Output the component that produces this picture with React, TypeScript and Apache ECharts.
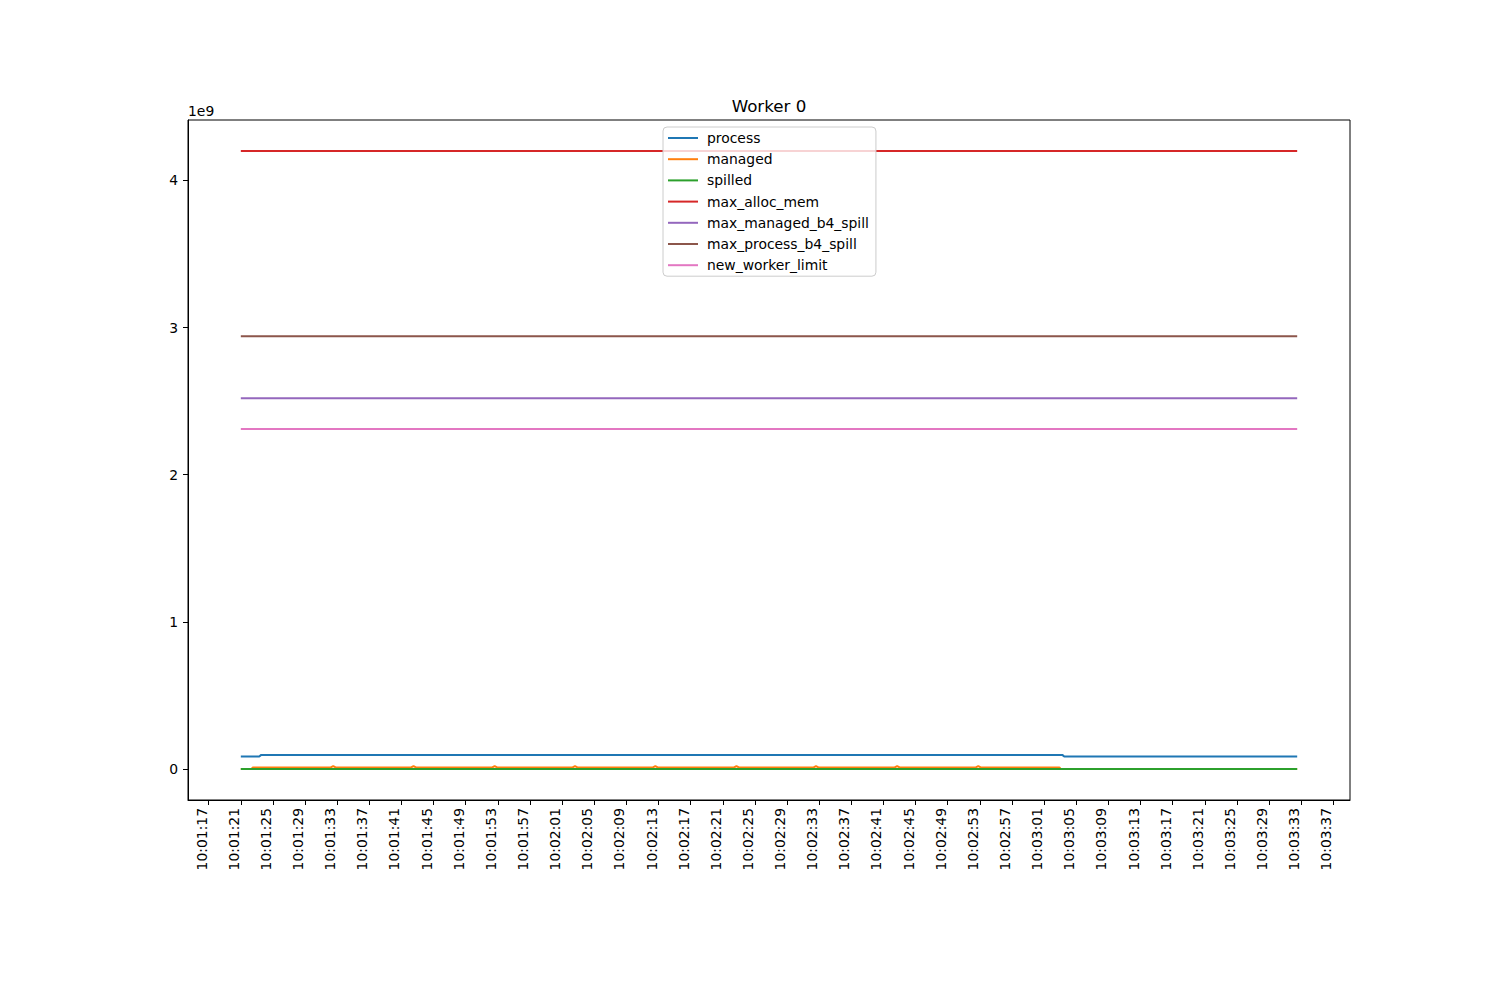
import React, { useEffect, useRef } from "react";
import * as echarts from "echarts";

// ---- DATA ----
const TITLE = "Worker 0";
const seriesNames = [
  "process",
  "managed",
  "spilled",
  "max_alloc_mem",
  "max_managed_b4_spill",
  "max_process_b4_spill",
  "new_worker_limit",
];
const colors = ["#1f77b4", "#ff7f0e", "#2ca02c", "#d62728", "#9467bd", "#8c564b", "#e377c2"];

const processData: [string, number][] = [
  ["10:01:21.0", 0.086e9],
  ["10:01:23.3", 0.086e9],
  ["10:01:23.5", 0.095e9],
  ["10:03:03.3", 0.095e9],
  ["10:03:03.5", 0.086e9],
  ["10:03:32.5", 0.086e9],
];
const managedData: [string, number][] = [
  ["10:01:21.0", 0],
  ["10:01:22.3", 0],
  ["10:01:22.5", 0.011e9],
  ["10:01:32.2", 0.011e9],
  ["10:01:32.5", 0.02e9],
  ["10:01:32.8", 0.011e9],
  ["10:01:42.2", 0.011e9],
  ["10:01:42.5", 0.02e9],
  ["10:01:42.8", 0.011e9],
  ["10:01:52.3", 0.011e9],
  ["10:01:52.6", 0.02e9],
  ["10:01:52.9", 0.011e9],
  ["10:02:02.3", 0.011e9],
  ["10:02:02.6", 0.02e9],
  ["10:02:02.9", 0.011e9],
  ["10:02:12.3", 0.011e9],
  ["10:02:12.6", 0.02e9],
  ["10:02:12.9", 0.011e9],
  ["10:02:22.4", 0.011e9],
  ["10:02:22.7", 0.02e9],
  ["10:02:23.0", 0.011e9],
  ["10:02:32.3", 0.011e9],
  ["10:02:32.6", 0.02e9],
  ["10:02:32.9", 0.011e9],
  ["10:02:42.4", 0.011e9],
  ["10:02:42.7", 0.02e9],
  ["10:02:43.0", 0.011e9],
  ["10:02:52.5", 0.011e9],
  ["10:02:52.8", 0.02e9],
  ["10:02:53.1", 0.011e9],
  ["10:03:02.9", 0.011e9],
  ["10:03:03.1", 0],
  ["10:03:32.5", 0],
];
const spilledData: [string, number][] = [
  ["10:01:21.0", 0],
  ["10:03:32.5", 0],
];
const maxAllocData: [string, number][] = [
  ["10:01:21.0", 4.2e9],
  ["10:03:32.5", 4.2e9],
];
const maxManagedData: [string, number][] = [
  ["10:01:21.0", 2.52e9],
  ["10:03:32.5", 2.52e9],
];
const maxProcessData: [string, number][] = [
  ["10:01:21.0", 2.94e9],
  ["10:03:32.5", 2.94e9],
];
const newWorkerData: [string, number][] = [
  ["10:01:21.0", 2.31e9],
  ["10:03:32.5", 2.31e9],
];

const xTickLabels = [
  "10:01:17", "10:01:21", "10:01:25", "10:01:29", "10:01:33", "10:01:37", "10:01:41",
  "10:01:45", "10:01:49", "10:01:53", "10:01:57", "10:02:01", "10:02:05", "10:02:09",
  "10:02:13", "10:02:17", "10:02:21", "10:02:25", "10:02:29", "10:02:33", "10:02:37",
  "10:02:41", "10:02:45", "10:02:49", "10:02:53", "10:02:57", "10:03:01", "10:03:05",
  "10:03:09", "10:03:13", "10:03:17", "10:03:21", "10:03:25", "10:03:29", "10:03:33",
  "10:03:37",
];
const yTicks = [0, 1e9, 2e9, 3e9, 4e9];
const Y_DATA_MIN = 0;
const Y_DATA_MAX = 4.2e9;

// ---- helpers ----
const toSec = (t: string) => {
  const [h, m, s] = t.split(":");
  return Number(h) * 3600 + Number(m) * 60 + Number(s);
};
const pad2 = (n: number) => (n < 10 ? "0" + n : "" + n);
const fmtSec = (v: number) => {
  const r = Math.round(v);
  const h = Math.floor(r / 3600);
  const m = Math.floor((r % 3600) / 60);
  const s = r % 60;
  return `${pad2(h)}:${pad2(m)}:${pad2(s)}`;
};

const allData = [processData, managedData, spilledData, maxAllocData, maxManagedData, maxProcessData, newWorkerData];

export default function App() {
  const ref = useRef<HTMLDivElement>(null);
  useEffect(() => {
    if (!ref.current) return;
    const chart = echarts.init(ref.current, null, { renderer: "svg" });
    const FONT = "DejaVu Sans";

    let xs: number[] = [];
    allData.forEach((d) => d.forEach((p) => xs.push(toSec(p[0]))));
    const xLo = Math.min(...xs);
    const xHi = Math.max(...xs);
    const xr = xHi - xLo;
    const yr = Y_DATA_MAX - Y_DATA_MIN;

    const series = allData.map((d, i) => ({
      name: seriesNames[i],
      type: "line",
      data: d.map((p) => [toSec(p[0]), p[1]]),
      symbol: "none",
      showSymbol: false,
      lineStyle: { width: 2, color: colors[i] },
      itemStyle: { color: colors[i] },
      silent: true,
    }));

    chart.setOption({
      animation: false,
      textStyle: { fontFamily: FONT },
      grid: {
        left: 188,
        right: 150,
        top: 120,
        bottom: 200,
        show: true,
        borderColor: "#000",
        borderWidth: 1,
        backgroundColor: "transparent",
      },
      graphic: [
        {
          type: "text",
          x: 769,
          y: 106,
          style: {
            text: TITLE,
            fontFamily: FONT,
            fontSize: 16.7,
            fill: "#000",
            textAlign: "center",
            textVerticalAlign: "middle",
          },
        },
        {
          type: "text",
          x: 188,
          y: 111,
          style: {
            text: "1e9",
            fontFamily: FONT,
            fontSize: 13.9,
            fill: "#000",
            textAlign: "left",
            textVerticalAlign: "middle",
          },
        },
      ],
      legend: {
        orient: "vertical",
        left: 663,
        top: 127,
        itemWidth: 30,
        itemHeight: 14,
        itemGap: 7.2,
        icon: "path://M0,6 L30,6 L30,8 L0,8 Z",
        padding: [4, 7, 4, 5],
        backgroundColor: "rgba(255,255,255,0.8)",
        borderColor: "#cccccc",
        borderWidth: 1,
        borderRadius: 4,
        textStyle: { fontFamily: FONT, fontSize: 13.9, color: "#000", padding: [0, 0, 0, 4] },
        data: seriesNames.map((n, i) => ({ name: n, itemStyle: { color: colors[i] } })),
        z: 10,
      },
      xAxis: {
        type: "value",
        min: xLo - 0.05 * xr,
        max: xHi + 0.05 * xr,
        axisLine: { show: true, onZero: false, lineStyle: { color: "#000", width: 1 } },
        axisTick: {
          show: true,
          inside: false,
          length: 5,
          lineStyle: { color: "#000", width: 1 },
          customValues: xTickLabels.map(toSec),
        },
        axisLabel: {
          show: true,
          rotate: 90,
          margin: 8,
          fontFamily: FONT,
          fontSize: 13.9,
          color: "#000",
          verticalAlign: "bottom",
          customValues: xTickLabels.map(toSec),
          formatter: (v: number) => fmtSec(v),
        },
        splitLine: { show: false },
      },
      yAxis: {
        type: "value",
        min: Y_DATA_MIN - 0.05 * yr,
        max: Y_DATA_MAX + 0.05 * yr,
        axisLine: { show: true, onZero: false, lineStyle: { color: "#000", width: 1 } },
        axisTick: {
          show: true,
          inside: false,
          length: 5,
          lineStyle: { color: "#000", width: 1 },
          customValues: yTicks,
        },
        axisLabel: {
          show: true,
          margin: 10,
          fontFamily: FONT,
          fontSize: 13.9,
          color: "#000",
          customValues: yTicks,
          formatter: (v: number) => String(Math.round(v / 1e9)),
        },
        splitLine: { show: false },
      },
      series,
    });
    return () => chart.dispose();
  }, []);
  return (
    <div
      ref={ref}
      style={{ position: "fixed", left: 0, top: 0, width: 1500, height: 1000, background: "#fff" }}
    />
  );
}
